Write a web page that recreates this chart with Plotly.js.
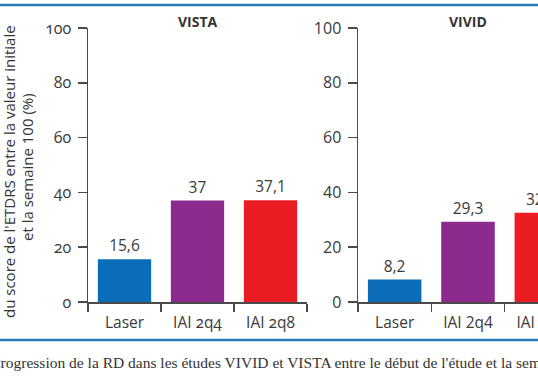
<!DOCTYPE html>
<html>
<head>
<meta charset="utf-8">
<script src="https://cdn.plot.ly/plotly-3.0.1.min.js"></script>
<style>
html, body { margin: 0; padding: 0; overflow: hidden; background: #fff; width: 538px; height: 384px; }
#chart { position: absolute; left: -20px; top: 0; width: 640px; height: 384px; }
.ytick text, .xtick text { font-variant-numeric: oldstyle-nums; font-feature-settings: "onum" 1; }
</style>
</head>
<body>
<div id="chart"></div>
<script>
const categories = ["Laser", "IAI 2q4", "IAI 2q8"];
const vistaValues = [15.6, 37, 37.1];
const vividValues = [8.2, 29.3, 32.6];
const panelTitles = ["VISTA", "VIVID"];
const barColors = ["#0b6dba", "#8c2a8d", "#ec1c24"];
const yTickValues = [0, 20, 40, 60, 80, 100];
const yTitleLines = ["du score de l'ETDRS entre la valeur initiale", "et la semaine 100 (%)"];
const caption = "Progression de la RD dans les études VIVID et VISTA entre le début de l'étude et la semaine 100.";

const W = 640, H = 384, OFF = 20;
const px = x => (x + OFF) / W;
const py = y => (H - y) / H;

const fmt = v => String(v).replace('.', ',');
const sans = "Open Sans, Lato, DejaVu Sans, sans-serif";
const textCol = "#3a3a3a";
const axisCol = "#4a4a4a";

function barTrace(vals, xa, ya) {
  return {
    type: 'bar', x: categories, y: vals, xaxis: xa, yaxis: ya,
    marker: { color: barColors, line: { width: 0 } },
    text: vals.map(fmt), textposition: 'outside', cliponaxis: false,
    textfont: { family: sans, size: 15.5, color: textCol },
    hoverinfo: 'none', showlegend: false
  };
}

const xCommon = {
  type: 'category', range: [-0.5, 2.5], showgrid: false, zeroline: false,
  showline: true, linecolor: axisCol, linewidth: 1.5,
  ticks: 'outside', tickson: 'boundaries', ticklen: 8, tickwidth: 1.5, tickcolor: axisCol,
  ticklabelstandoff: 6,
  tickfont: { family: sans, size: 15.5, color: textCol }, fixedrange: true
};
const yCommon = {
  range: [0, 100], tickvals: yTickValues, showgrid: false, zeroline: false,
  showline: true, linecolor: axisCol, linewidth: 1.5,
  ticks: 'outside', ticklen: 9, tickwidth: 1.5, tickcolor: axisCol,
  ticklabelstandoff: 3,
  tickfont: { family: sans, size: 16, color: textCol }, fixedrange: true,
  domain: [py(302), py(28)]
};

function ann(text, x, y, size, extra) {
  return Object.assign({ text: text, xref: 'paper', yref: 'paper', x: x, y: y, xanchor: 'center', yanchor: 'middle',
    showarrow: false, font: { family: sans, size: size, color: '#333' } }, extra || {});
}

const layout = {
  width: W, height: H,
  margin: { l: 0, r: 0, t: 0, b: 0 },
  paper_bgcolor: '#fff', plot_bgcolor: '#fff',
  bargap: 0.27,
  xaxis: Object.assign({}, xCommon, { domain: [px(88), px(307)], anchor: 'y' }),
  yaxis: Object.assign({}, yCommon, { anchor: 'x' }),
  xaxis2: Object.assign({}, xCommon, { domain: [px(358), px(578)], anchor: 'y2' }),
  yaxis2: Object.assign({}, yCommon, { anchor: 'x2' }),
  shapes: [
    { type: 'line', xref: 'paper', yref: 'paper', x0: 0, x1: 1, y0: py(5), y1: py(5), line: { color: '#2878b6', width: 2.5 } },
    { type: 'line', xref: 'paper', yref: 'paper', x0: 0, x1: 1, y0: py(340), y1: py(340), line: { color: '#2878b6', width: 2.5 } }
  ],
  annotations: [
    ann('<b>' + panelTitles[0] + '</b>', px(198), py(22), 14),
    ann('<b>' + panelTitles[1] + '</b>', px(468), py(22), 14),
    ann(yTitleLines[0], px(9), py(172), 15, { textangle: -90 }),
    ann(yTitleLines[1], px(27), py(167), 15, { textangle: -90 }),
    ann(caption, px(-10), py(362), 15, { xanchor: 'left',
      font: { family: "Liberation Serif, DejaVu Serif, serif", size: 15.5, color: '#333' } })
  ]
};

Plotly.newPlot('chart', [barTrace(vistaValues, 'x', 'y'), barTrace(vividValues, 'x2', 'y2')], layout,
  { displayModeBar: false, staticPlot: true });
</script>
</body>
</html>
